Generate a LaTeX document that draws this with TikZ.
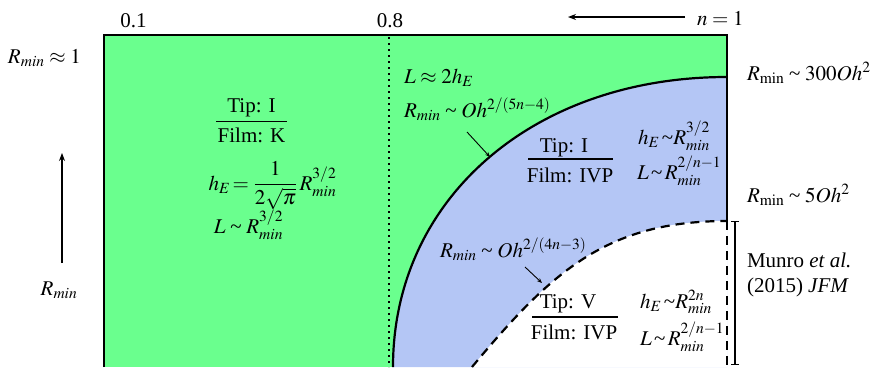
\documentclass[tikz,border=0pt]{standalone}
\usepackage{mathptmx}
\usepackage{fontspec}
\setmainfont{Liberation Serif}
\usetikzlibrary{arrows.meta}
\definecolor{regK}{RGB}{106,255,142}
\definecolor{regIVP}{RGB}{180,198,245}
\newcommand{\tl}{\mbox{\char"7E}}
\newcommand{\tsim}{\mathrel{\tl}}
\begin{document}
\begin{tikzpicture}[x=1pt,y=1pt,
  every node/.style={inner sep=0pt, outer sep=0pt, font=\fontsize{21}{25}\selectfont},
  lc/.style={anchor=base},
  lw/.style={anchor=base west},
  border/.style={line width=2.2pt},
  fracrule/.style={line width=1.1pt},
  bigarrow/.style={line width=1.2pt, -{Stealth[length=8pt,width=6pt]}},
  smallarrow/.style={line width=0.9pt, -{Stealth[length=5pt,width=4pt]}},
  dashcurve/.style={line width=2.2pt, dash pattern=on 9pt off 6pt}]
\useasboundingbox (0,0) rectangle (873,-367);
% regions
\fill[regK] (104,-35) rectangle (727,-367);
\fill[regIVP] (727,-77) .. controls (533.3,-77) and (393,-198.8) .. (393,-367) -- (727,-367) -- cycle;
\fill[white] (727,-221) .. controls (607,-221) and (552,-271) .. (472,-367) -- (727,-367) -- cycle;
% boundaries
\draw[line width=1.6pt, dash pattern=on 1.6pt off 4.4pt] (389,-37) -- (389,-367);
\draw[border] (393,-367) .. controls (393,-198.8) and (533.3,-77) .. (727,-77);
\draw[dashcurve] (472,-367) .. controls (552,-271) and (607,-221) .. (727,-221);
\draw[border] (104,-367) -- (104,-35) -- (727,-35) -- (727,-221);
\draw[dashcurve] (727,-221) -- (727,-367);
% top axis
\node[lc] (x01) at (133.5,-27) {0.1};
\node[lc] (x08) at (390,-27) {0.8};
\node[lw] (n1) at (697,-25) {$n=1$};
\coordinate (nArrS) at (685,-17);
\coordinate (nArrE) at (568,-17);
\draw[bigarrow] (nArrS) -- (nArrE);
% left axis
\node[lw] (rtop) at (8,-63) {$R_{min}\approx 1$};
\node[lc] (rleft) at (59,-295) {$R_{min}$};
\coordinate (rArrS) at (62,-263);
\coordinate (rArrE) at (62,-153);
\draw[bigarrow] (rArrS) -- (rArrE);
% region K
\node[lc] (tipK) at (251.5,-112) {Tip: I};
\node[lc] (filmK) at (251.5,-142) {Film: K};
\draw[fracrule] (216,-121.7) -- (287,-121.7);
\node[lc] (hEK) at (272.5,-190) {$h_E\!={\displaystyle\frac{1}{2\sqrt{\pi}}}\,R^{3/2}_{min}$};
\node[lc] (LK) at (248.5,-233) {$L\tsim R^{3/2}_{min}$};
% boundary labels
\node[lw] (L2h) at (404,-83) {$L\approx 2h_E$};
\node[lw] (bnd1) at (404,-117) {$R_{min}\tsim Oh^{2/(5n-4)}$};
\coordinate (b1S) at (467,-132);
\coordinate (b1E) at (490,-157);
\draw[smallarrow] (b1S) -- (b1E);
\node[lw] (bnd2) at (440,-257) {$R_{min}\tsim Oh^{2/(4n-3)}$};
\coordinate (b2S) at (525,-267);
\coordinate (b2E) at (542,-283);
\draw[smallarrow] (b2S) -- (b2E);
% region IVP (tip I)
\node[lc] (tipI) at (564,-152) {Tip: I};
\node[lc] (filmI) at (570,-182) {Film: IVP};
\draw[fracrule] (528,-159) -- (613,-159);
\node[lw] (hEI) at (638,-144) {$h_E\,\tl R^{3/2}_{min}$};
\node[lw] (LI) at (637,-179) {$L\,\tl\, R^{2/n-1}_{min}$};
% region IVP (tip V)
\node[lc] (tipV) at (568,-308) {Tip: V};
\node[lc] (filmV) at (574,-339) {Film: IVP};
\draw[fracrule] (532,-317) -- (618,-317);
\node[lw] (hEV) at (640,-308) {$h_E\,\tl R^{2n}_{min}$};
\node[lw] (LV) at (640,-345) {$L\,\tl\, R^{2/n-1}_{min}$};
% right labels
\node[lw] (r300) at (747,-80) {$R_{\mathrm{min}}\tsim 300Oh^2$};
\node[lw] (r5) at (747,-202) {$R_{\mathrm{min}}\tsim 5Oh^2$};
\coordinate (mTop) at (735,-221);
\coordinate (mBot) at (735,-365);
\draw[line width=1.2pt, {Bar[width=8pt]}-{Bar[width=8pt]}] (mTop) -- (mBot);
\node[lw] (munro1) at (747,-267) {Munro \textit{et al.}};
\node[lw] (munro2) at (747,-292) {(2015) \textit{JFM}};
\end{tikzpicture}
\end{document}
